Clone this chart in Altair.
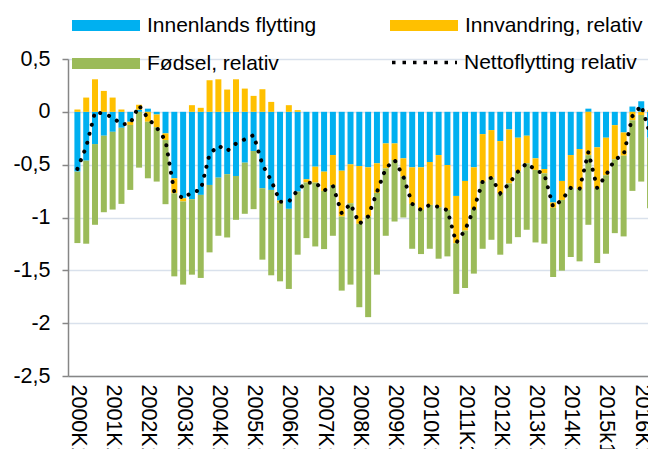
import altair as alt
import pandas as pd

# Quarterly values, 2000K1 .. 2016K2 (66 quarters)
innenlands = [-0.566, -0.462, -0.305, -0.226, -0.189, -0.151, -0.094, 0.02, 0.03, -0.025,
              -0.204, -0.629, -0.818, -0.827, -0.786, -0.692, -0.623, -0.59, -0.607, -0.481,
              -0.371, -0.723, -0.739, -0.84, -0.918, -0.755, -0.638, -0.519, -0.566, -0.409,
              -0.557, -0.497, -0.513, -0.525, -0.487, -0.299, -0.299, -0.44, -0.525, -0.525,
              -0.475, -0.409, -0.503, -0.796, -0.654, -0.525, -0.211, -0.173, -0.277, -0.167,
              -0.245, -0.226, -0.44, -0.541, -0.858, -0.654, -0.409, -0.352, 0.03, -0.336,
              -0.245, -0.126, -0.195, 0.05, 0.10, -0.245]
innvandring = [0.022, 0.135, 0.308, 0.198, 0.135, 0.022, -0.03, 0.047, -0.094, -0.12,
               -0.063, -0.142, -0.03, 0.063, 0.038, 0.299, 0.308, 0.211, 0.308, 0.22,
               0.151, 0.214, 0.094, -0.02, 0.063, 0.016, -0.031, -0.151, -0.182, -0.283,
               -0.434, -0.368, -0.547, -0.465, -0.28, -0.236, -0.157, -0.173, -0.346, -0.403,
               -0.406, -0.494, -0.425, -0.447, -0.47, -0.395, -0.45, -0.45, -0.494, -0.51,
               -0.32, -0.261, -0.11, -0.041, -0.05, -0.18, -0.31, -0.38, -0.41, -0.384,
               -0.355, -0.324, -0.22, -0.08, -0.03, 0.016]
fodsel = [-0.676, -0.786, -0.764, -0.724, -0.736, -0.72, -0.615, -0.528, -0.535, -0.515,
          -0.607, -0.786, -0.787, -0.714, -0.786, -0.638, -0.55, -0.599, -0.415, -0.484,
          -0.55, -0.676, -0.808, -0.744, -0.758, -0.597, -0.526, -0.604, -0.551, -0.481,
          -0.701, -0.77, -0.789, -0.953, -0.774, -0.638, -0.582, -0.387, -0.425, -0.418,
          -0.415, -0.487, -0.44, -0.48, -0.543, -0.611, -0.635, -0.588, -0.581, -0.571,
          -0.621, -0.629, -0.686, -0.666, -0.655, -0.669, -0.655, -0.683, -0.659, -0.711,
          -0.743, -0.698, -0.764, -0.668, -0.63, -0.667]
netto = [-0.54, -0.33, 0.0, -0.02, -0.05, -0.12, -0.11, 0.06, -0.06, -0.15,
         -0.27, -0.76, -0.82, -0.76, -0.74, -0.40, -0.32, -0.37, -0.30, -0.26,
         -0.22, -0.50, -0.65, -0.85, -0.85, -0.74, -0.67, -0.67, -0.745, -0.70,
         -0.96, -0.87, -1.06, -0.99, -0.76, -0.535, -0.455, -0.613, -0.87, -0.928,
         -0.88, -0.90, -0.93, -1.24, -1.12, -0.92, -0.66, -0.623, -0.77, -0.68,
         -0.566, -0.487, -0.55, -0.59, -0.90, -0.833, -0.72, -0.73, -0.38, -0.72,
         -0.60, -0.45, -0.41, -0.04, 0.06, -0.21]

tick_labels = ["2000K1", "2001K1", "2002K1", "2003K1", "2004K1", "2005K1", "2006K1",
               "2007K1", "2008K1", "2009K1", "2010K1", "2011K1", "2012K1", "2013K1",
               "2014K1", "2015k1", "2016K1"]
y_ticks = [-2.5, -2, -1.5, -1, -0.5, 0, 0.5]

series_names = ["Innenlands flytting", "Innvandring, relativ", "Fødsel, relativ"]
series_colors = ["#00B0F0", "#FFC000", "#9BBB59"]
net_name = "Nettoflytting relativ"

n = len(netto)
rows = []
for k, vals in enumerate([innenlands, innvandring, fodsel]):
    for i, v in enumerate(vals):
        rows.append({"i": i, "serie": series_names[k], "ord": k, "v": v})
bars_df = pd.DataFrame(rows)
line_df = pd.DataFrame({"i": list(range(n)), "v": netto, "serie": [net_name] * n})

FONT = "Liberation Sans"
FS = 21.5
LFS = 21

label_array = "[" + ",".join("'" + s + "'" for s in tick_labels) + "]"
x_scale = alt.Scale(domain=[-0.5, 64.2], nice=False, zero=False)
x_axis = alt.Axis(values=list(range(0, 4 * len(tick_labels), 4)),
                  labelExpr=label_array + "[round(datum.value / 4)]",
                  labelAngle=90, labelAlign="left", labelBaseline="middle",
                  labelPadding=8, ticks=False, tickSize=0, grid=False,
                  domainColor="#868686", domainWidth=1.5, labelFlush=False,
                  labelOverlap=False, labelBound=False, labelFontSize=FS,
                  labelColor="black", title=None)
y_scale = alt.Scale(domain=[-2.5, 0.5], nice=False)
y_axis = alt.Axis(values=y_ticks, labelExpr="replace('' + datum.value, '.', ',')",
                  tickSize=6, tickColor="#868686", tickWidth=1.5,
                  domainColor="#868686", domainWidth=1.5,
                  gridColor="#D9E1EC", gridWidth=1.5, labelPadding=12,
                  labelFontSize=FS, labelColor="black", title=None)

# legend placement (relative to the plot area): x, y of each legend block
legend_pos = [(4, -67.5), (322, -67.5), (4, -29.5)]
RECT = "M-1,-0.165L1,-0.165L1,0.165L-1,0.165Z"

base = alt.Chart(bars_df).transform_stack(
    stack="v", groupby=["i"], as_=["y0", "y1"],
    sort=[alt.SortField("ord")], offset="zero")

layers = []
for k, name in enumerate(series_names):
    lx, ly = legend_pos[k]
    layers.append(
        base.transform_filter(alt.datum.ord == k)
        .mark_bar(size=6, orient="vertical", clip=True)
        .encode(
            x=alt.X("i:Q", scale=x_scale, axis=x_axis),
            y=alt.Y("y0:Q", scale=y_scale, axis=y_axis),
            y2="y1:Q",
            color=alt.Color("serie:N",
                            scale=alt.Scale(domain=[name], range=[series_colors[k]]),
                            legend=alt.Legend(orient="none", legendX=lx, legendY=ly,
                                              symbolType=RECT, symbolSize=4624,
                                              symbolStrokeWidth=0, labelFontSize=LFS,
                                              labelOffset=7, labelLimit=300,
                                              labelColor="black", title=None, padding=0)),
        )
    )

line = alt.Chart(line_df).mark_line(strokeWidth=4, strokeDash=[0.1, 9.2],
                                    strokeCap="round", clip=True).encode(
    x=alt.X("i:Q", scale=x_scale, axis=x_axis),
    y=alt.Y("v:Q", scale=y_scale, axis=y_axis),
    color=alt.Color("serie:N",
                    scale=alt.Scale(domain=[net_name], range=["black"]),
                    legend=alt.Legend(orient="none", legendX=322, legendY=-31,
                                      symbolType="stroke", symbolSize=4225,
                                      symbolStrokeWidth=3.5, symbolDash=[3.5, 7],
                                      labelFontSize=LFS, labelOffset=5, labelLimit=300,
                                      labelColor="black", title=None, padding=0)),
)

chart = alt.layer(*layers, line).resolve_scale(color="independent").properties(
    width=580, height=317,
    autosize=alt.AutoSizeParams(type="none"),
    padding={"left": 60, "top": 51, "right": 0, "bottom": 73},
).configure_view(stroke=None).configure_axis(
    labelFont=FONT
).configure_legend(labelFont=FONT)

chart.save("out.html", embed_options={"renderer": "svg", "actions": False})
